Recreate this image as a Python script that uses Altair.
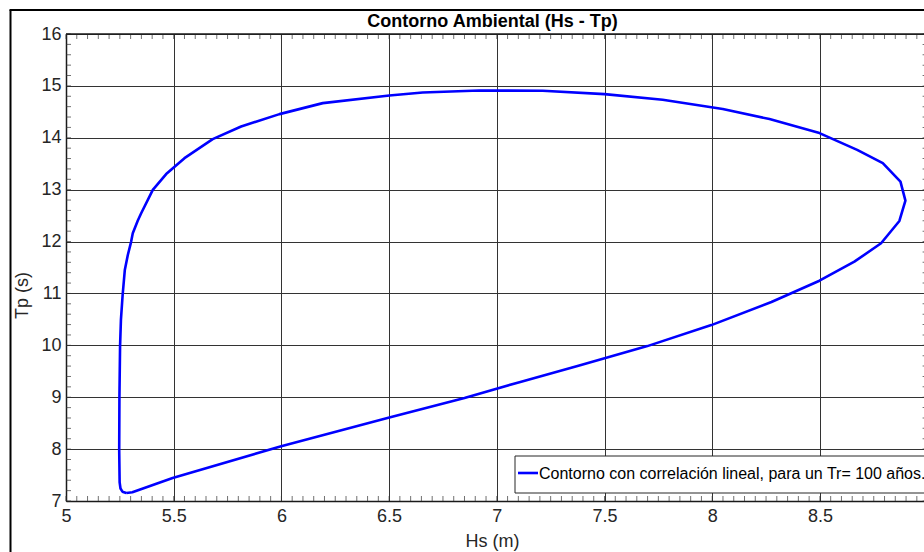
import altair as alt
import pandas as pd
import numpy as np

# ---- data ----
hs = [5.280, 5.262, 5.253, 5.249, 5.247, 5.248, 5.251, 5.255, 5.263, 5.273,
      5.287, 5.302, 5.310, 5.333, 5.349, 5.403, 5.465, 5.550, 5.681, 5.813, 5.991,
      6.192, 6.501, 6.656, 6.919, 7.213, 7.500, 7.770, 8.049, 8.266, 8.498,
      8.673, 8.792, 8.874, 8.897, 8.869, 8.784, 8.660, 8.498, 8.275, 7.996,
      7.699, 7.383, 7.105, 6.850, 6.501, 5.999, 5.495, 5.308, 5.280]
tp = [7.155, 7.18, 7.24, 7.36, 7.98, 8.98, 9.985, 10.49, 10.975, 11.45,
      11.74, 11.99, 12.16, 12.40, 12.546, 12.995, 13.30, 13.607, 13.974, 14.217, 14.456,
      14.668, 14.815, 14.873, 14.912, 14.906, 14.842, 14.732, 14.553, 14.360, 14.090,
      13.767, 13.511, 13.156, 12.789, 12.397, 11.967, 11.612, 11.245, 10.834, 10.390,
      9.985, 9.610, 9.290, 8.987, 8.607, 8.055, 7.444, 7.17, 7.155]

x_ticks = [5, 5.5, 6, 6.5, 7, 7.5, 8, 8.5]
y_ticks = [7, 8, 9, 10, 11, 12, 13, 14, 15, 16]
x_minor = [round(5 + 0.05 * i, 2) for i in range(81)]
y_minor = [round(7 + 0.2 * i, 1) for i in range(46)]

title_text = "Contorno Ambiental (Hs - Tp)"
x_title = "Hs (m)"
y_title = "Tp (s)"
legend_label = "Contorno con correlación lineal, para un Tr= 100 años."

FONT = "Liberation Sans"
W, H = 858, 467
X_MAX = 5 + W / 215.4

df = pd.DataFrame({"Hs": hs, "Tp": tp, "idx": list(range(len(hs)))})
xs = alt.Scale(domain=[5, X_MAX], nice=False, zero=False)
ys = alt.Scale(domain=[7, 16], nice=False, zero=False)

line = alt.Chart(df).mark_line(color="#0000ff", strokeWidth=2.6, strokeJoin="round").encode(
    x=alt.X("Hs:Q", scale=xs, axis=alt.Axis(
        values=x_ticks, format="~g", title=x_title, grid=True, ticks=False,
        domain=True, domainColor="#1a1a1a", domainWidth=1.5,
        gridColor="#333333", gridWidth=1,
        labelFont=FONT, labelFontSize=18, labelColor="#262626", labelPadding=6,
        labelFlush=False, labelBaseline="top",
        titleFont=FONT, titleFontSize=18, titleFontWeight="normal", titleColor="#262626",
        titleX=426, titleY=40, titleAnchor="middle", titleAlign="center", titleBaseline="middle")),
    y=alt.Y("Tp:Q", scale=ys, axis=alt.Axis(
        values=y_ticks, format="~g", title=y_title, grid=True, ticks=False,
        domain=True, domainColor="#1a1a1a", domainWidth=1.5,
        gridColor="#333333", gridWidth=1,
        labelFont=FONT, labelFontSize=18, labelColor="#262626", labelPadding=5,
        labelFlush=False, labelBaseline="middle",
        titleFont=FONT, titleFontSize=18, titleFontWeight="normal", titleColor="#262626",
        titleX=-44, titleY=261, titleAngle=270, titleAlign="center", titleBaseline="middle")),
    order="idx:Q",
)

xm = pd.DataFrame({"x": x_minor})
ym = pd.DataFrame({"y": y_minor})
tick_color = "#333333"
xt_bottom = alt.Chart(xm).mark_tick(orient="vertical", size=5, thickness=1, color=tick_color).encode(
    x=alt.X("x:Q", scale=xs), y=alt.value(H - 2.5))
xt_top = alt.Chart(xm).mark_tick(orient="vertical", size=5, thickness=1, color=tick_color).encode(
    x=alt.X("x:Q", scale=xs), y=alt.value(2.5))
yt_left = alt.Chart(ym).mark_tick(orient="horizontal", size=5, thickness=1, color=tick_color).encode(
    y=alt.Y("y:Q", scale=ys), x=alt.value(2.5))
yt_right = alt.Chart(ym).mark_tick(orient="horizontal", size=5, thickness=1, color=tick_color).encode(
    y=alt.Y("y:Q", scale=ys), x=alt.datum(9, scale=xs), xOffset=alt.value(-2.5))

one = pd.DataFrame({"label": [legend_label], "title": [title_text]})
top_line = alt.Chart(one).mark_rule(color="#1a1a1a", strokeWidth=1.5).encode(
    x=alt.value(0), x2=alt.value(W + 10), y=alt.value(0))
frame_left = alt.Chart(one).mark_rule(color="black", strokeWidth=2).encode(
    x=alt.value(-55.5), y=alt.value(-24), y2=alt.value(H + 200))
frame_top = alt.Chart(one).mark_rule(color="black", strokeWidth=2).encode(
    x=alt.value(-56.5), x2=alt.value(W + 10), y=alt.value(-24))
title = alt.Chart(one).mark_text(font=FONT, fontSize=18, fontWeight="bold", color="black",
                                 align="center", baseline="alphabetic").encode(
    x=alt.value(426.5), y=alt.value(-7), text="title:N")

leg_box = alt.Chart(one).mark_rect(fill="white", stroke="#262626", strokeWidth=1).encode(
    x=alt.value(449), x2=alt.value(W + 40), y=alt.value(422), y2=alt.value(459))
leg_line = alt.Chart(one).mark_rule(color="#0000ff", strokeWidth=2.6).encode(
    x=alt.value(452), x2=alt.value(472), y=alt.value(439))
leg_text = alt.Chart(one).mark_text(font=FONT, fontSize=16, color="black", align="left",
                                    baseline="middle").encode(
    x=alt.value(473), y=alt.value(439.5), text="label:N")

chart = alt.layer(line, xt_bottom, xt_top, yt_left, yt_right, top_line, frame_left, frame_top,
                  title, leg_box, leg_line, leg_text).properties(
    width=W, height=H,
    autosize=alt.AutoSizeParams(type="none"),
    padding={"left": 66, "top": 34, "right": 0, "bottom": 51},
).configure_view(stroke=None).configure(background="white")

chart.save("out.html", embed_options={"renderer": "svg", "actions": False})
